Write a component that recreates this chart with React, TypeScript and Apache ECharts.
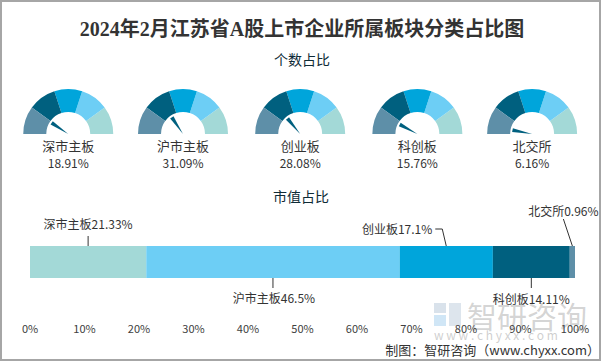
import React, { useEffect, useRef } from "react";
import * as echarts from "echarts";

// ---- data ----
const boardNames = ["深市主板", "沪市主板", "创业板", "科创板", "北交所"];
const countShare = [18.91, 31.09, 28.08, 15.76, 6.16];
const marketValueShare = [21.33, 46.5, 17.1, 14.11, 0.96];
const barCategory = ["市值"];
const segmentColors = ["#5e8fa8", "#00607f", "#00a5db", "#6dcef5", "#a3d9d7"];
const barColors = ["#a3d9d7", "#6dcef5", "#00a5db", "#00607f", "#5e8fa8"];

// ---- layout (styles only) ----
const gaugeCenters = ["11.3%", "30.3%", "49.7%", "69.1%", "88.1%"];
const labelLayout = [
  { side: -1, path: [[0, -10]], tx: 0, ty: -23, align: "center" },
  { side: 1, path: [[0, 10]], tx: 1, ty: 19, align: "center" },
  { side: -1, path: [[-4, -17], [-11, -17]], tx: -14, ty: -18, align: "right" },
  { side: 1, path: [[0, 10]], tx: 0, ty: 20, align: "center" },
  { side: -1, path: [[-9, -27]], tx: -9, ty: -36, align: "center" },
];

const FONT = "'Noto Sans CJK SC', 'Noto Sans', sans-serif";

export default function App() {
  const ref = useRef<HTMLDivElement>(null);
  useEffect(() => {
    if (!ref.current) return;
    const chart = echarts.init(ref.current, undefined, { renderer: "svg" });

    const gaugeSeries = countShare.map((v, i) => ({
      type: "gauge",
      center: [gaugeCenters[i], 134],
      radius: 45,
      startAngle: 180,
      endAngle: 0,
      min: 0,
      max: 100,
      splitNumber: 5,
      axisLine: {
        show: true,
        roundCap: false,
        lineStyle: {
          width: 23,
          color: segmentColors.map((c, k) => [(k + 1) / 5, c]),
        },
      },
      axisTick: { show: false },
      splitLine: { show: false },
      axisLabel: { show: false },
      progress: { show: false },
      anchor: { show: false },
      pointer: {
        show: true,
        icon: "path://M0,0 L4,0 L2,20 Z",
        length: 20,
        width: 4,
        offsetCenter: [0, 0],
        itemStyle: { color: "#00607f" },
      },
      title: {
        show: true,
        offsetCenter: [0, 11],
        fontSize: 13,
        color: "#333",
        fontFamily: FONT,
      },
      detail: {
        show: true,
        offsetCenter: [0, 28],
        fontSize: 12,
        fontWeight: "normal",
        color: "#333",
        fontFamily: FONT,
        formatter: (val: number) => val.toFixed(2) + "%",
      },
      data: [{ value: v, name: boardNames[i] }],
    }));

    const barSeries = marketValueShare.map((v, i) => ({
      type: "bar",
      name: boardNames[i],
      stack: "mv",
      barWidth: 32,
      itemStyle: { color: barColors[i] },
      data: [v],
    }));

    let acc = 0;
    const labelData = marketValueShare.map((v, i) => {
      const item = [acc, 0, v, i];
      acc += v;
      return item;
    });

    const labelSeries = {
      type: "custom",
      clip: false,
      silent: true,
      z: 5,
      data: labelData,
      renderItem: (params: any, api: any) => {
        const start = api.value(0);
        const val = api.value(2);
        const idx = api.value(3);
        const mid = api.coord([start + val / 2, 0]);
        const L = labelLayout[idx];
        const ax = mid[0];
        const ay = mid[1] + L.side * 16;
        const pts = [[ax, ay], ...L.path.map(([dx, dy]) => [ax + dx, ay + dy])];
        return {
          type: "group",
          children: [
            {
              type: "polyline",
              shape: { points: pts },
              style: { stroke: "#333", lineWidth: 1, fill: null },
            },
            {
              type: "text",
              style: {
                text: boardNames[idx] + val + "%",
                x: ax + L.tx,
                y: ay + L.ty,
                align: L.align,
                verticalAlign: "middle",
                fontSize: 12,
                fontFamily: FONT,
                fill: "#333",
              },
            },
          ],
        };
      },
    };

    chart.setOption({
      animation: false,
      backgroundColor: "#ffffff",
      title: [
        {
          text: "2024年2月江苏省A股上市企业所属板块分类占比图",
          left: "center",
          top: 14,
          textStyle: {
            fontSize: 20,
            fontWeight: "bold",
            color: "#333",
            fontFamily: "'Liberation Serif', 'Noto Sans CJK SC', serif",
          },
        },
        {
          text: "个数占比",
          left: "center",
          top: 47,
          textStyle: { fontSize: 14, fontWeight: "normal", color: "#0e2b36", fontFamily: FONT },
        },
        {
          text: "市值占比",
          left: 268,
          top: 184,
          textStyle: { fontSize: 14, fontWeight: "normal", color: "#0e2b36", fontFamily: FONT },
        },
      ],
      grid: { left: 30, right: 29, top: 210, bottom: 47 },
      xAxis: {
        type: "value",
        min: 0,
        max: 100,
        interval: 10,
        axisLine: { show: false },
        axisTick: { show: false },
        splitLine: { show: false },
        axisLabel: {
          formatter: "{value}%",
          fontSize: 11,
          color: "#404040",
          fontFamily: FONT,
          margin: 8,
        },
      },
      yAxis: { type: "category", data: barCategory, show: false },
      graphic: [
        {
          type: "group",
          z: 0,
          silent: true,
          children: [
            { type: "rect", shape: { x: 434, y: 303, width: 12, height: 10 }, style: { fill: "rgba(170,190,210,0.45)" } },
            { type: "rect", shape: { x: 434, y: 315, width: 12, height: 11 }, style: { fill: "rgba(150,200,235,0.45)" } },
            { type: "rect", shape: { x: 449, y: 303, width: 12, height: 23 }, style: { fill: "rgba(170,190,210,0.4)" } },
            {
              type: "text",
              style: {
                text: "智研咨询",
                x: 467,
                y: 315,
                verticalAlign: "middle",
                fontSize: 30,
                fontFamily: FONT,
                fill: "rgba(160,160,160,0.45)",
              },
            },
            {
              type: "text",
              style: {
                text: "w w w . c h y x x . c o m",
                x: 434,
                y: 334,
                verticalAlign: "middle",
                fontSize: 12,
                fontFamily: FONT,
                fill: "rgba(160,160,160,0.5)",
              },
            },
          ],
        },
        {
          type: "text",
          style: {
            text: "制图：智研咨询（www.chyxx.com）",
            x: 600,
            y: 349,
            align: "right",
            verticalAlign: "middle",
            fontSize: 13,
            fontFamily: FONT,
            fill: "#333",
          },
        },
      ],
      series: [...gaugeSeries, ...barSeries, labelSeries],
    });

    return () => chart.dispose();
  }, []);

  return (
    <div style={{ position: "absolute", left: 0, top: 0, width: 604, height: 361 }}>
      <div ref={ref} style={{ position: "absolute", left: 0, top: 0, width: 604, height: 361 }} />
      <div
        style={{
          position: "absolute",
          left: 0,
          top: 0,
          width: 601,
          height: 361,
          border: "2px solid #a6a6a6",
          boxSizing: "border-box",
          pointerEvents: "none",
        }}
      />
    </div>
  );
}
